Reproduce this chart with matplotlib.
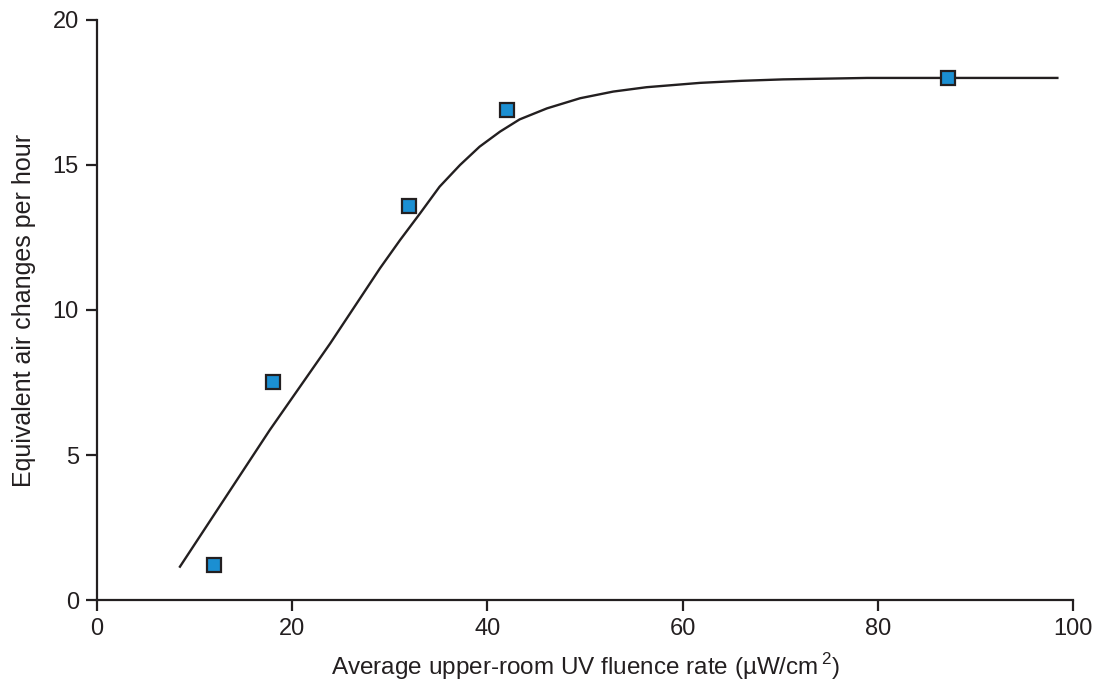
import numpy as np
import matplotlib
matplotlib.use("Agg")
import matplotlib.pyplot as plt

plt.rcParams['font.family'] = ['Liberation Sans', 'DejaVu Sans']
plt.rcParams['mathtext.fontset'] = 'custom'
plt.rcParams['mathtext.rm'] = 'Liberation Sans'

INK = '#231f20'
BLUE = '#1b8fd2'

# measured points
fluence = [12, 18, 32, 42, 87.2]
ach = [1.2, 7.5, 13.6, 16.9, 18.0]

# fitted curve
curve_x = [8.5, 17.7, 23.9, 29.0, 31.05, 33.1, 35.1, 37.2, 39.2, 41.3, 43.3, 46.1,
           49.5, 52.9, 56.3, 61.8, 66.0, 70.3, 78.9, 87.2, 98.4]
curve_y = [1.15, 5.86, 8.85, 11.44, 12.41, 13.33, 14.25, 15.0, 15.63, 16.15, 16.57, 16.95,
           17.3, 17.53, 17.68, 17.83, 17.9, 17.95, 18.0, 18.0, 18.0]

fig = plt.figure(figsize=(10.96, 6.87), dpi=100)
ax = fig.add_axes([0.0885, 0.1266, 0.8905, 0.8444])

ax.plot(curve_x, curve_y, color=INK, lw=1.7, zorder=2, solid_joinstyle='round')
ax.plot(fluence, ach, ls='none', marker='s', ms=10, mfc=BLUE, mec=INK, mew=1.6, zorder=3)

ax.set_xlim(0, 100)
ax.set_ylim(0, 20)
ax.set_xticks([0, 20, 40, 60, 80, 100])
ax.set_yticks([0, 5, 10, 15, 20])

for s in ['top', 'right']:
    ax.spines[s].set_visible(False)
for s in ['left', 'bottom']:
    ax.spines[s].set_color(INK)
    ax.spines[s].set_linewidth(1.6)
ax.tick_params(direction='out', length=8, width=1.6, color=INK, labelcolor=INK, labelsize=17, pad=5)

ax.set_xlabel(r"Average upper-room UV fluence rate (µW/cm$^{\,2}$)", fontsize=17.5, color=INK, labelpad=8)
ax.set_ylabel("Equivalent air changes per hour", fontsize=18, color=INK, labelpad=12)

fig.savefig("out.png", dpi=100)
